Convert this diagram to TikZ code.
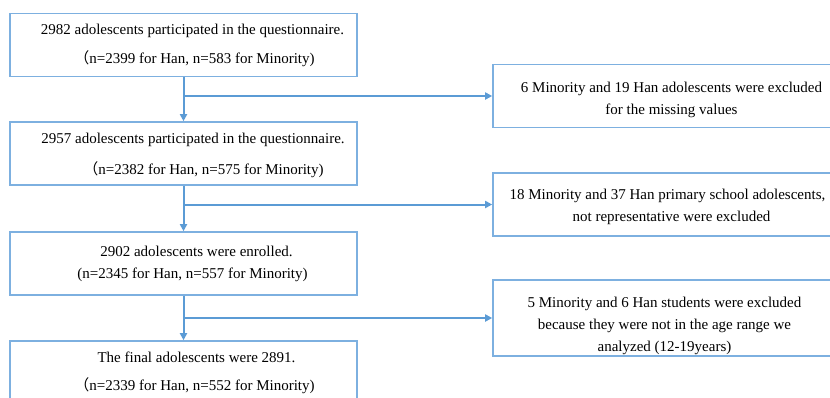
\documentclass[tikz,border=0pt]{standalone}
\usepackage{fontspec}
\setmainfont{Liberation Serif}
\newfontfamily\cjkfont{Noto Sans CJK SC}
\usetikzlibrary{positioning,arrows.meta}
\definecolor{flowblue}{RGB}{91,155,213}
\definecolor{boxblue}{RGB}{125,176,224}
\newcommand{\widepar}{{\cjkfont （}}
\newcommand{\sh}[1]{\hspace*{#1pt}}

\begin{document}
\begin{tikzpicture}[x=1pt,y=1pt,
  mainbox/.style={draw=boxblue,line width=1.6pt,minimum width=347pt,minimum height=63pt,
    align=center,inner sep=0pt,font=\fontsize{15}{18}\selectfont},
  exbox/.style={mainbox,minimum width=357pt},
  flow/.style={draw=flowblue,line width=2pt,-{Triangle[length=7pt,width=7pt]}}
]
\clip (0,0) rectangle (830,-397);

% main column
\node[mainbox] (q1) at (183.5,-45) {\sh{18}2982 adolescents participated in the questionnaire.\\[11pt]
  \sh{22}\widepar n=2399 for Han, n=583 for Minority)};
\node[mainbox] (q2) at (183.5,-153.5) {\rule{0pt}{15pt}\sh{19}2957 adolescents participated in the questionnaire.\\[13pt]
  \sh{40}\widepar n=2382 for Han, n=575 for Minority)};
\node[mainbox] (enrolled) at (183.5,-263.5) {\sh{26}2902 adolescents were enrolled.\\[4pt]
  \sh{18}(n=2345 for Han, n=557 for Minority)};
\node[mainbox] (final) at (183.5,-372.5) {\sh{26}The final adolescents were 2891.\\[10pt]
  \sh{22}\widepar n=2339 for Han, n=552 for Minority)};

% excluded
\node[exbox] (ex1) at (671.5,-96) {\rule{0pt}{19pt}6 Minority and 19 Han adolescents were excluded\\[4pt]
  for the missing values};
\node[exbox] (ex2) at (671.5,-204.5) {\rule{0pt}{16pt}\sh{-8}18 Minority and 37 Han primary school adolescents,\\[4pt]
  not representative were excluded};
\node[exbox,minimum height=76pt] (ex3) at (671.5,-318) {\rule{0pt}{27pt}\sh{-14}5 Minority and 6 Han students were excluded\\[4pt]
  \sh{-14}because they were not in the age range we\\[4pt] \sh{-14}analyzed (12-19years)};

% connectors
\draw[flow] (q1) -- (q2);
\draw[flow] (q2) -- (enrolled);
\draw[flow] (enrolled) -- (final);
\draw[flow] (q1.south |- ex1.west) -- (ex1.west);
\draw[flow] (q2.south |- ex2.west) -- (ex2.west);
\draw[flow] (enrolled.south |- ex3.west) -- (ex3.west);
\end{tikzpicture}
\end{document}
